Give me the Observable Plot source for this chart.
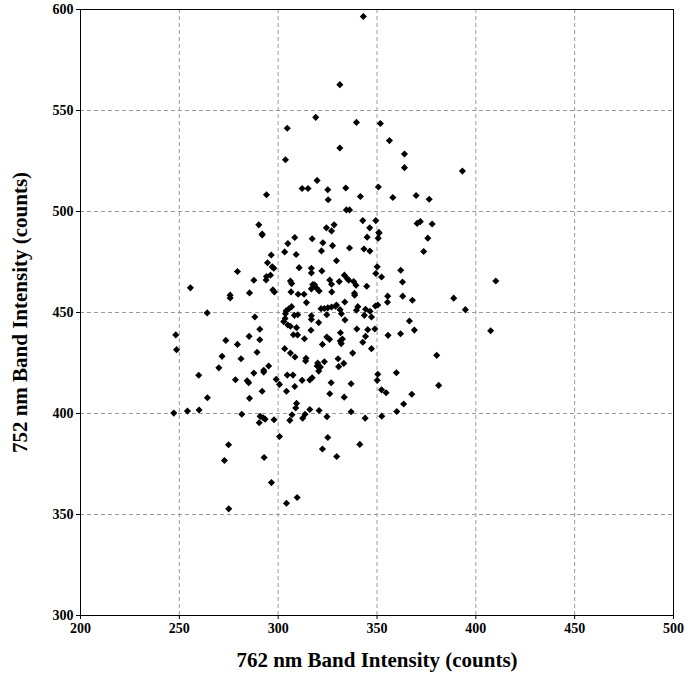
<!DOCTYPE html>
<html>
<head>
<meta charset="utf-8">
<script src="https://cdn.jsdelivr.net/npm/d3@7"></script>
<script src="https://cdn.jsdelivr.net/npm/@observablehq/plot@0.6"></script>
<style>
  html, body { margin: 0; padding: 0; background: #fff; }
</style>
</head>
<body>
<div id="chart"></div>
<script>
const xTitle = "762 nm Band Intensity (counts)";
const yTitle = "752 nm Band Intensity (counts)";
const xTicks = [200, 250, 300, 350, 400, 450, 500];
const yTicks = [300, 350, 400, 450, 500, 550, 600];

const band762 = [
  319.0,304.6,331.2,303.7,319.7,312.1,315.1,325.1,325.3,294.1,290.2,291.9,324.4,327.0,328.3,
  339.6,351.7,356.3,363.9,363.9,334.2,350.7,341.6,358.0,369.8,334.5,336.1,342.8,349.4,346.3,351.1,370.3,371.9,
  393.2,376.4,377.9,
  343.1,331.2,
  279.4,287.7,255.6,275.7,275.7,285.5,264.1,288.2,248.2,248.6,273.5,279.4,285.3,271.6,281.2,270.0,287.7,259.8,
  278.4,284.3,285.1,264.2,285.5,247.2,254.1,260.0,281.6,274.9,272.8,275.0,
  292.7,304.6,307.5,312.1,316.0,317.2,299.0,300.7,304.2,308.4,291.9,326.8,326.1,309.3,308.9,316.0,320.7,313.6,312.4,307.0,305.9,297.9,290.9,292.4,290.4,293.4,324.7,300.7,325.1,322.4,329.6,292.9,296.6,304.2,309.6,
  350.4,359.8,350.1,336.9,352.3,354.6,367.6,333.4,363.5,336.9,360.0,344.0,352.4,341.3,
  381.2,
  375.7,373.6,410.1,388.8,394.7,407.5,380.2,
  345.0,350.9,350.6,336.1,343.4,346.4,329.5,350.1,349.4,352.3,362.0,362.9,333.5,334.9,335.7,330.9,338.2,339.4,344.8,338.6,338.7,355.4,355.3,363.0,367.9,333.7,329.5,340.3,339.6,349.2,350.4,331.3,332.0,344.2,346.5,343.6,347.2,333.8,366.4,368.9,339.8,345.3,348.9,331.5,355.6,361.9,344.2,332.5,331.4,331.9,342.8,347.2,337.7,330.3,333.2,330.6,
  291.9,308.4,317.2,304.9,322.6,327.5,303.3,321.9,309.1,296.5,294.6,297.0,297.8,310.6,316.8,316.8,322.1,294.1,296.1,293.9,306.2,306.8,326.1,327.0,317.5,318.4,316.8,320.7,319.2,297.3,298.1,306.5,310.1,313.1,327.1,314.3,306.8,305.4,304.0,303.7,309.9,308.2,316.8,316.8,321.7,323.4,325.1,327.0,329.0,324.6,320.5,302.8,303.5,304.9,306.2,309.3,316.6,290.7,307.7,309.8,313.3,324.6,326.0,290.7,322.4,303.3,306.2,289.3,308.5,314.1,313.9,320.0,319.7,321.4,323.4,295.2,292.7,320.5
];
const band752 = [
  546.6,541.2,531.4,525.6,515.4,511.4,511.4,510.8,505.8,508.3,493.4,488.8,491.9,490.4,493.4,
  544.1,543.6,535.1,528.5,521.7,511.6,512.1,507.4,506.9,507.9,500.8,500.8,495.5,495.5,491.9,489.4,494.1,495.0,
  520.0,506.1,493.8,
  596.5,562.8,
  470.3,466.0,462.2,458.6,457.2,459.7,449.8,447.8,438.9,431.6,436.2,434.2,438.2,428.3,427.1,422.6,420.0,418.9,
  416.7,416.2,415.2,407.8,407.5,400.2,401.2,401.7,399.6,384.5,376.7,352.8,
  420.5,419.0,419.0,416.4,416.6,417.7,416.9,414.4,411.0,413.4,411.0,415.2,409.8,405.0,402.7,402.0,401.5,399.6,397.7,399.4,396.6,396.9,398.6,397.9,395.4,397.2,398.4,388.6,388.1,382.4,378.7,378.2,365.8,355.6,358.4,
  419.4,420.2,416.4,414.7,411.7,410.3,409.5,408.1,404.7,400.9,401.0,397.7,398.7,384.7,
  413.9,
  486.8,480.2,465.6,457.1,451.4,441.0,428.8,
  487.3,489.6,486.8,481.9,481.4,480.4,475.6,472.6,469.3,467.6,470.9,465.1,468.5,466.8,466.0,465.3,465.3,463.5,463.0,459.5,458.6,458.1,455.1,458.1,456.1,455.2,453.7,452.9,451.1,453.2,453.7,451.4,449.4,451.6,450.6,448.6,447.8,446.3,445.8,441.3,441.8,441.5,441.8,440.0,438.7,439.5,438.2,436.9,435.9,434.6,435.3,432.1,429.9,427.1,424.8,423.2,
  488.4,487.1,486.5,484.1,484.5,483.1,480.0,480.5,478.7,478.5,474.6,472.6,471.9,472.2,471.9,469.6,470.6,467.8,468.5,466.1,465.6,464.3,466.1,464.0,463.8,463.7,461.7,460.7,462.3,461.2,460.2,460.2,459.0,459.0,460.2,454.9,452.9,451.8,450.8,449.4,448.9,448.6,448.4,446.5,451.9,452.0,452.3,452.7,453.1,448.9,445.0,445.5,447.0,443.8,443.2,442.5,441.2,441.7,439.0,438.9,437.0,437.9,436.7,436.5,434.2,432.1,429.9,430.3,428.0,427.3,426.0,425.0,423.5,423.0,425.6,423.5,421.4,421.0
];

const data = band762.map((x, i) => ({x, y: band752[i]}));
const innerX = xTicks.slice(1, -1);
const innerY = yTicks.slice(1, -1);

const chart = Plot.plot({
  width: 688,
  height: 674,
  marginLeft: 80,
  marginRight: 15,
  marginTop: 9,
  marginBottom: 59,
  style: {fontFamily: "'Liberation Serif', 'Times New Roman', serif", fontSize: "14px", fontWeight: "bold", color: "#000", background: "#fff"},
  x: {domain: [200, 500]},
  y: {domain: [300, 600]},
  marks: [
    Plot.gridX(innerX, {stroke: "#9a9a9a", strokeOpacity: 1, strokeDasharray: "4,3", strokeWidth: 1}),
    Plot.gridY(innerY, {stroke: "#9a9a9a", strokeOpacity: 1, strokeDasharray: "4,3", strokeWidth: 1}),
    Plot.frame({stroke: "#000", strokeWidth: 1}),
    Plot.axisX(xTicks, {label: null, tickSize: 4, tickPadding: 4, fontSize: 14, fontWeight: "bold"}),
    Plot.axisY(yTicks, {label: null, tickSize: 4, tickPadding: 3, fontSize: 14, fontWeight: "bold"}),
    Plot.dot(data, {x: "x", y: "y", symbol: "diamond2", r: 3.2, fill: "#000", stroke: null}),
    Plot.text([xTitle], {text: d => d, frameAnchor: "bottom", dy: 45, textAnchor: "middle", lineAnchor: "middle", fontSize: 21, fontWeight: "bold", fill: "#000"}),
    Plot.text([yTitle], {text: d => d, frameAnchor: "left", dx: -60, rotate: -90, textAnchor: "middle", lineAnchor: "middle", fontSize: 21, fontWeight: "bold", fill: "#000"})
  ]
});
document.getElementById("chart").appendChild(chart);
</script>
</body>
</html>
